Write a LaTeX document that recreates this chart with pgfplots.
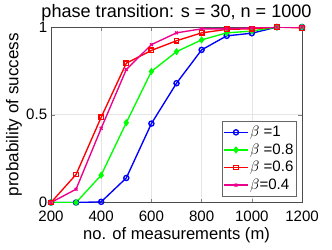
\documentclass[border=0pt]{standalone}
\usepackage{fontspec}
\setmainfont{Liberation Sans}
\usepackage{pgfplots}
\pgfplotsset{compat=1.18}
\begin{document}
\begin{tikzpicture}
\begin{axis}[
  width=166bp, height=116bp, scale only axis,
  xmin=200, xmax=1200, ymin=0, ymax=1,
  xtick={200,400,...,1200}, ytick={0,0.5,1},
  yticklabels={0,0.5,1},
  /pgf/number format/assume math mode=true,
  /pgf/number format/1000 sep={},
  tick align=inside, tick pos=both,
  major tick length=2.5pt,
  grid=major, grid style={gray!20},
  axis line style={black!70},
  tick label style={font=\fontsize{10}{12}\selectfont},
  xticklabel style={yshift=-2pt},
  yticklabel style={xshift=1pt},
  label style={font=\fontsize{11}{13}\selectfont},
  title style={font=\fontsize{12}{14}\selectfont, yshift=-6pt},
  title={phase transition: s = 30, n = 1000},
  xlabel={no. of measurements (m)},
  ylabel={probability of success},
  xlabel style={yshift=3pt},
  ylabel style={yshift=-4pt, font=\fontsize{11.3}{13}\selectfont},
  legend style={font=\fontsize{10}{12}\selectfont, draw=black!60, inner xsep=1pt, inner ysep=1.5pt,
    nodes={inner xsep=1pt, inner ysep=1.6pt},
    at={(1,0)}, xshift=-3.5bp, yshift=4bp, anchor=south east},
  legend image code/.code={\draw[mark repeat=2,mark phase=2] plot coordinates {(0cm,0cm)(0.28cm,0cm)(0.56cm,0cm)};},
  legend cell align=left,
  every axis plot/.append style={line width=0.9pt, mark size=1.7pt},
]
\addplot[blue, mark=o, mark options={solid, draw=blue}] coordinates {(200,0)(300,0)(400,0.004)(500,0.14)(600,0.45)(700,0.68)(800,0.87)(900,0.95)(1000,0.965)(1100,1)(1200,1)};
\addplot[green, mark=diamond*, mark options={solid, draw=green, fill=green}] coordinates {(200,0)(300,0)(400,0.156)(500,0.455)(600,0.747)(700,0.86)(800,0.927)(900,0.967)(1000,0.977)(1100,1)(1200,1)};
\addplot[red, mark=square, mark options={solid, draw=red, mark size=1.5pt}] coordinates {(200,0)(300,0.16)(400,0.486)(500,0.794)(600,0.867)(700,0.922)(800,0.967)(900,0.987)(1000,0.99)(1100,1)(1200,0.995)};
\addplot[magenta, mark=x, mark options={solid, draw=magenta, mark size=1.3pt}] coordinates {(200,0)(300,0.076)(400,0.423)(500,0.758)(600,0.90)(700,0.967)(800,0.99)(900,0.99)(1000,0.995)(1100,1)(1200,1)};
\legend{$\beta$ =1, $\beta$ =0.8, $\beta$ =0.6, $\beta$=0.4}
\end{axis}
\pgfresetboundingbox
\path ([xshift=-33.7bp, yshift=-31.1bp]current axis.south west) rectangle ([xshift=19.8bp, yshift=17.9bp]current axis.north east);
\end{tikzpicture}
\end{document}
